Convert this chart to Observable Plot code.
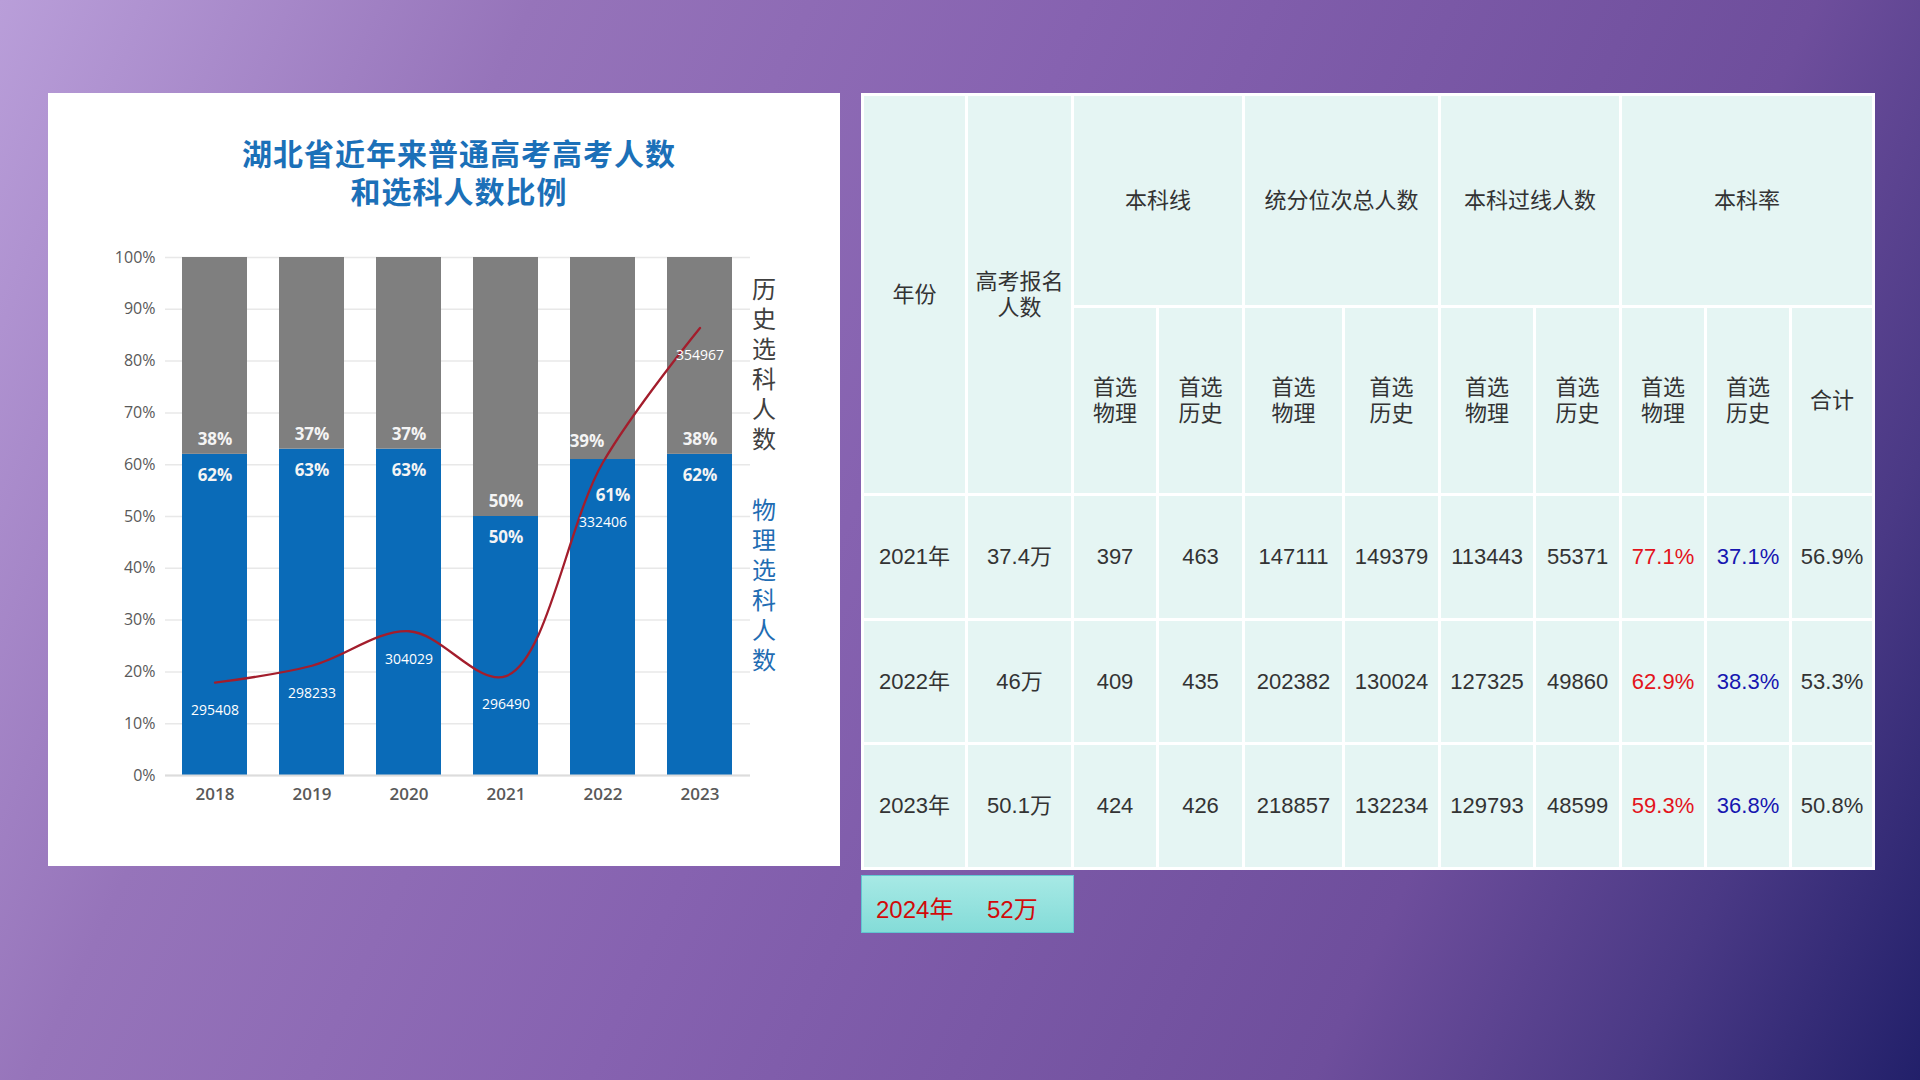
<!DOCTYPE html>
<html>
<head>
<meta charset="utf-8">
<script src="https://cdn.jsdelivr.net/npm/d3@7"></script>
<script src="https://cdn.jsdelivr.net/npm/@observablehq/plot@0.6"></script>
<style>
  html, body { margin:0; padding:0; }
  body {
    width:1920px; height:1080px; position:relative; overflow:hidden;
    background: linear-gradient(115deg, #b99ed9 0%, #9674ba 22%, #8662b0 45%, #6e4e9c 75%, #4a3985 88%, #22206a 100%);
    font-family: "Noto Sans CJK SC", "Noto Sans", sans-serif;
  }
  #panel { position:absolute; left:48px; top:93px; width:792px; height:773px; background:#fff; }
  #title { position:absolute; left:0; top:43px; width:822px; text-align:center;
    font: 700 30px/38px "Liberation Sans", "Noto Sans CJK SC", sans-serif; letter-spacing:1px; color:#1b70b8; }
  .plotwrap { position:absolute; left:0; top:137px; width:792px; height:600px; }
  .plotwrap svg { overflow:visible; }
  .vlabel { position:absolute; width:30px; text-align:center; font: 400 24px/30px "Liberation Sans", "Noto Sans CJK SC", sans-serif; }
  #tbl { position:absolute; left:861px; top:93px; width:1011px; border-collapse:collapse; table-layout:fixed;
    background:#e5f5f3; }
  #tbl td { border:3px solid #fff; text-align:center; vertical-align:middle; padding:0;
    font-family:"Liberation Sans", "Noto Sans CJK SC", sans-serif; font-size:22px; line-height:26px; color:#333; }
  #box2024 { position:absolute; left:861px; top:875px; width:211px; height:56px;
    background: linear-gradient(#a7e9e5, #84dcd8); border:1px solid #62c6d2;
    font-family:"Liberation Sans", "Noto Sans CJK SC", sans-serif; font-size:24px; color:#d10a0a; }
  #box2024 span { position:absolute; top:14px; }
</style>
</head>
<body>
<div id="panel">
  <div id="title"></div>
  <div class="plotwrap" id="bars"></div>
  <div class="plotwrap" id="line"></div>
  <div class="vlabel" id="lblHist" style="left:701px; top:182px; color:#404040;"></div>
  <div class="vlabel" id="lblPhys" style="left:701px; top:403px; color:#1f6db3;"></div>
</div>
<table id="tbl"></table>
<div id="box2024"><span id="y2024" style="left:14px"></span><span id="n2024" style="left:125px"></span></div>

<script>
// ---------- chart data ----------
const years = ["2018", "2019", "2020", "2021", "2022", "2023"];
const physicsPct = [62, 63, 63, 50, 61, 62];
const historyPct = [38, 37, 37, 50, 39, 38];
const totalStudents = [295408, 298233, 304029, 296490, 332406, 354967];
const yTicks = [0, 10, 20, 30, 40, 50, 60, 70, 80, 90, 100];
const subjects = ["物理", "历史"];
const chartTitle = ["湖北省近年来普通高考高考人数", "和选科人数比例"];
const histLabel = "历史选科人数";
const physLabel = "物理选科人数";

// ---------- table data ----------
const tableYears = ["2021年", "2022年", "2023年"];
const applicants = ["37.4万", "46万", "50.1万"];
const lineScorePhysics = [397, 409, 424];
const lineScoreHistory = [463, 435, 426];
const rankTotalPhysics = [147111, 202382, 218857];
const rankTotalHistory = [149379, 130024, 132234];
const passPhysics = [113443, 127325, 129793];
const passHistory = [55371, 49860, 48599];
const ratePhysics = ["77.1%", "62.9%", "59.3%"];
const rateHistory = ["37.1%", "38.3%", "36.8%"];
const rateTotal = ["56.9%", "53.3%", "50.8%"];
const groupHeaders = ["本科线", "统分位次总人数", "本科过线人数", "本科率"];
const subHeaders = ["首选<br>物理", "首选<br>历史"];
const note2024 = ["2024年", "52万"];

// ---------- chart ----------
document.getElementById("title").innerHTML = chartTitle.join("<br>");

const barRows = years.flatMap((y, i) => [
  {year: y, subject: subjects[0], pct: physicsPct[i]},
  {year: y, subject: subjects[1], pct: historyPct[i]}
]);
const rows = years.map((y, i) => ({year: y, phys: physicsPct[i], hist: historyPct[i], total: totalStudents[i]}));

const dims = {width: 792, height: 600, marginLeft: 117, marginRight: 90, marginTop: 27, marginBottom: 55};
const font = "'Open Sans', 'Noto Sans', sans-serif";
const pctStyle = {fill: "#f4f4f4", fontSize: 17, fontWeight: 700, fontFamily: font};
const is2022 = d => d.year === "2022";
const not2022 = d => d.year !== "2022";
const xScale = {domain: years, paddingInner: 0.325, paddingOuter: 0.1625};

const bars = Plot.plot({
  ...dims,
  style: {fontFamily: font, background: "transparent"},
  x: {...xScale, label: null},
  y: {domain: [0, 100], label: null},
  color: {domain: subjects, range: ["#0a6bb8", "#7f7f7f"]},
  marks: [
    Plot.gridY(yTicks, {stroke: "#e8e8e8", strokeOpacity: 1, strokeWidth: 1.5}),
    Plot.barY(barRows, {x: "year", y: "pct", fill: "subject"}),
    Plot.ruleY([0], {stroke: "#dcdcdc", strokeWidth: 2}),
    Plot.axisY(yTicks, {tickSize: 0, tickPadding: 10, tickFormat: d => d + "%", fontSize: 16, color: "#595959", label: null}),
    Plot.axisX({tickSize: 0, tickPadding: 12, fontSize: 17, fontWeight: 600, color: "#595959", label: null}),
    Plot.text(rows.filter(not2022), {x: "year", y: "phys", text: d => d.hist + "%", dy: -15, ...pctStyle}),
    Plot.text(rows.filter(not2022), {x: "year", y: "phys", text: d => d.phys + "%", dy: 21, ...pctStyle}),
    Plot.text(rows.filter(is2022), {x: "year", y: "phys", text: d => d.hist + "%", dy: -18, dx: -16, ...pctStyle}),
    Plot.text(rows.filter(is2022), {x: "year", y: "phys", text: d => d.phys + "%", dy: 36, dx: 10, ...pctStyle})
  ]
});
document.getElementById("bars").append(bars);

const countStyle = {fill: "#ffffff", fontSize: 14, fontFamily: font};
const line = Plot.plot({
  ...dims,
  style: {fontFamily: font, background: "transparent"},
  x: {type: "band", ...xScale, axis: null},
  y: {domain: [279800, 366800], axis: null},
  marks: [
    Plot.line(rows, {x: "year", y: "total", curve: "catmull-rom", stroke: "#a31d2c", strokeWidth: 2.3}),
    Plot.text(rows.filter(not2022), {x: "year", y: "total", text: d => String(d.total), dy: 28, ...countStyle}),
    Plot.text(rows.filter(is2022), {x: "year", y: "total", text: d => String(d.total), dy: 60, ...countStyle})
  ]
});
document.getElementById("line").append(line);

document.getElementById("lblHist").innerHTML = Array.from(histLabel).join("<br>");
document.getElementById("lblPhys").innerHTML = Array.from(physLabel).join("<br>");

// ---------- table ----------
const colWidths = [104, 106, 85, 86, 100, 96, 95, 86, 85, 85, 83];
const rowHeights = [212, 188, 125, 124, 125];
let html = "<colgroup>" + colWidths.map(w => `<col style="width:${w}px">`).join("") + "</colgroup>";
html += `<tr style="height:${rowHeights[0]}px"><td rowspan="2">年份</td><td rowspan="2">高考报名<br>人数</td>` +
  groupHeaders.map((g, i) => `<td colspan="${i === 3 ? 3 : 2}">${g}</td>`).join("") + "</tr>";
html += `<tr style="height:${rowHeights[1]}px">` +
  [0, 1, 2, 3].map(() => subHeaders.map(s => `<td>${s}</td>`).join("")).join("") + "<td>合计</td></tr>";
tableYears.forEach((y, i) => {
  html += `<tr style="height:${rowHeights[i + 2]}px"><td>${y}</td><td>${applicants[i]}</td>` +
    `<td>${lineScorePhysics[i]}</td><td>${lineScoreHistory[i]}</td>` +
    `<td>${rankTotalPhysics[i]}</td><td>${rankTotalHistory[i]}</td>` +
    `<td>${passPhysics[i]}</td><td>${passHistory[i]}</td>` +
    `<td style="color:#e3131b">${ratePhysics[i]}</td><td style="color:#1616b0">${rateHistory[i]}</td>` +
    `<td>${rateTotal[i]}</td></tr>`;
});
document.getElementById("tbl").innerHTML = html;
document.getElementById("y2024").textContent = note2024[0];
document.getElementById("n2024").textContent = note2024[1];
</script>
</body>
</html>
